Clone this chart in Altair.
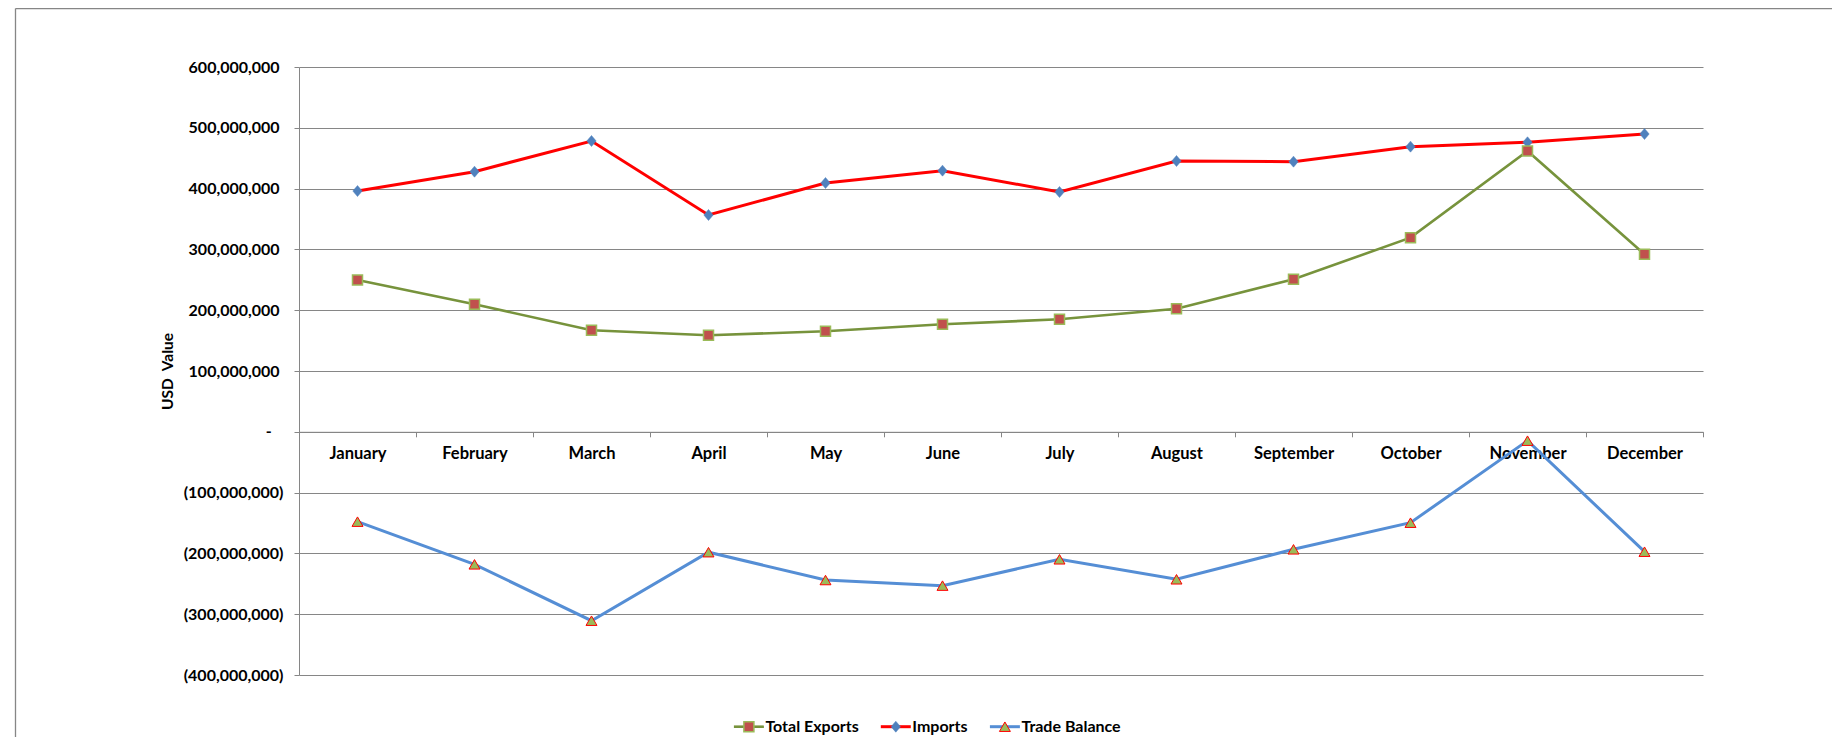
import altair as alt
import pandas as pd

# ---- data (USD millions) ----
months = ["January", "February", "March", "April", "May", "June",
          "July", "August", "September", "October", "November", "December"]
exports_m = [249.7, 209.7, 166.9, 158.7, 165.3, 176.8, 185.0, 202.5, 250.8, 319.3, 461.8, 291.9]
imports_m = [396.0, 427.8, 478.3, 356.6, 409.2, 429.5, 394.4, 445.4, 444.3, 469.0, 476.2, 489.8]
balance_m = [-147.8, -218.0, -310.7, -198.0, -243.8, -253.0, -209.7, -242.6, -193.3, -149.5, -14.6, -197.2]
series_names = ["Total Exports", "Imports", "Trade Balance"]
y_ticks = [-400e6, -300e6, -200e6, -100e6, 0, 100e6, 200e6, 300e6, 400e6, 500e6, 600e6]

rows = []
for name, vals in zip(series_names, [exports_m, imports_m, balance_m]):
    for m, v in zip(months, vals):
        rows.append({"Month": m, "Series": name, "Value": v * 1e6})
df = pd.DataFrame(rows)

# ---- styles ----
W, H = 1404, 608
FONT = "Lato"
GRID = "#868686"
style = {
    "Total Exports": dict(line="#77933C", lw=2.6, shape="square", fill="#C0504D", stroke="#9BBB59", sw=1.5, size=100),
    "Imports": dict(line="#FF0000", lw=3, shape="M-0.85,0L0,-1L0.85,0L0,1Z", fill="#4F81BD", stroke="#4F81BD", sw=0.5, size=121),
    "Trade Balance": dict(line="#558ED5", lw=3, shape="triangle-up", fill="#9BBB59", stroke="#FF0000", sw=1, size=120),
}

# accounting-style labels; a zero-width space keeps the trailing padding from being trimmed
label_expr = ("datum.value == 0 ? '-\u2002\u00a0\u200b' : (datum.value < 0 ? '(' + format(-datum.value, ',') + ')'"
              " : format(datum.value, ',') + '\u00a0\u200b')")

x_enc = alt.X("Month:N", sort=months,
              scale=alt.Scale(type="band", paddingInner=0, paddingOuter=0),
              axis=alt.Axis(title=None, orient="bottom", offset=-0.4 * H, grid=False,
                            domainColor=GRID, domainWidth=1, tickColor=GRID, tickWidth=1, tickSize=5,
                            tickBand="extent", labelAngle=0, labelFont=FONT, labelFontWeight="bold",
                            labelFontSize=16.5, labelColor="#000000", labelPadding=9))
y_enc = alt.Y("Value:Q", scale=alt.Scale(domain=[-400e6, 600e6], nice=False, zero=False),
              axis=alt.Axis(values=y_ticks, grid=True, gridColor=GRID, gridWidth=1, gridOpacity=1,
                            domainColor=GRID, domainWidth=1, tickColor=GRID, tickSize=5,
                            labelExpr=label_expr, labelFont=FONT, labelFontWeight="bold",
                            labelFontSize=16, labelColor="#000000", labelPadding=11,
                            title="USD\u00a0 Value", titleFont=FONT, titleFontWeight="bold",
                            titleFontSize=15.5, titleColor="#000000", titleAngle=270,
                            titleX=-131.5, titleY=H / 2, titleAlign="center", titleBaseline="middle"))

base = alt.Chart(df)
layers = []
for name in ["Imports", "Total Exports", "Trade Balance"]:
    s = style[name]
    sub = base.transform_filter(alt.datum.Series == name)
    layers.append(sub.mark_line(color=s["line"], strokeWidth=s["lw"]).encode(x=x_enc, y=y_enc))
    layers.append(sub.mark_point(filled=True, shape=s["shape"], size=s["size"], fill=s["fill"],
                                 stroke=s["stroke"], strokeWidth=s["sw"], opacity=1)
                  .encode(x=x_enc, y=y_enc))

# ---- chart-area frame (top and left edges visible in the reference) ----
one = alt.Data(values=[{}])
frame_top = alt.Chart(one).mark_rule(color=GRID, strokeWidth=1.3).encode(
    x=alt.value(-283.5), x2=alt.value(W + 300), y=alt.value(-58.5))
frame_left = alt.Chart(one).mark_rule(color=GRID, strokeWidth=1.3).encode(
    x=alt.value(-283.5), y=alt.value(-58.5), y2=alt.value(H + 200))
layers += [frame_top, frame_left]

# ---- legend (line + marker + label) ----
leg_x = {"Total Exports": 449.9, "Imports": 596.8, "Trade Balance": 705.9}
leg_y = 659.7
for name in series_names:
    s = style[name]
    cx = leg_x[name]
    d = alt.Data(values=[{"Series": name}])
    layers.append(alt.Chart(d).mark_rule(color=s["line"], strokeWidth=s["lw"]).encode(
        x=alt.value(cx - 15), x2=alt.value(cx + 15), y=alt.value(leg_y)))
    layers.append(alt.Chart(d).mark_point(filled=True, shape=s["shape"], size=s["size"], fill=s["fill"],
                                          stroke=s["stroke"], strokeWidth=s["sw"], opacity=1).encode(
        x=alt.value(cx), y=alt.value(leg_y)))
    layers.append(alt.Chart(d).mark_text(align="left", baseline="middle", font=FONT, fontWeight="bold",
                                         fontSize=16, color="#000000").encode(
        x=alt.value(cx + 16.5), y=alt.value(leg_y), text=alt.Text("Series:N")))

chart = alt.layer(*layers).properties(
    width=W, height=H,
    autosize=alt.AutoSizeParams(type="none"),
    padding={"left": 291, "top": 59, "right": 129, "bottom": 62},
    background="white",
).configure_view(stroke=None)

chart.save("out.html", embed_options={"renderer": "svg", "actions": False})
